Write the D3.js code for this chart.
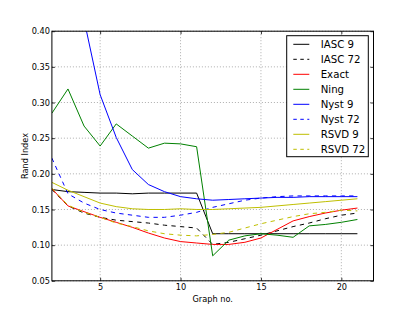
<!DOCTYPE html>
<html><head><meta charset="utf-8">
<script src="https://cdn.jsdelivr.net/npm/d3@7"></script>
<style>body{margin:0;background:#fff}svg{display:block}text{font-family:"DejaVu Sans",sans-serif}</style>
</head><body><svg id="c" width="415" height="312"></svg>
<script>
const graphs = [2,3,4,5,6,7,8,9,10,11,12,13,14,15,16,17,18,19,20,21];
const iasc9  = [0.178,0.175,0.174,0.173,0.173,0.172,0.173,0.173,0.173,0.173,0.116,0.116,0.116,0.116,0.116,0.116,0.116,0.116,0.116,0.116];
const iasc72 = [0.178,0.155,0.145,0.139,0.135,0.133,0.131,0.128,0.126,0.124,0.101,0.104,0.109,0.114,0.120,0.126,0.131,0.137,0.142,0.145];
const exact  = [0.179,0.155,0.147,0.139,0.132,0.125,0.117,0.110,0.105,0.103,0.101,0.101,0.104,0.110,0.122,0.134,0.140,0.145,0.149,0.152];
const ning   = [0.285,0.319,0.267,0.239,0.270,0.253,0.236,0.243,0.242,0.238,0.085,0.107,0.113,0.116,0.114,0.111,0.127,0.129,0.132,0.136];
const nyst9  = [0.600,0.500,0.416,0.311,0.251,0.206,0.185,0.175,0.168,0.165,0.163,0.164,0.165,0.166,0.167,0.167,0.168,0.168,0.168,0.168];
const nyst72 = [0.222,0.172,0.159,0.150,0.145,0.142,0.139,0.139,0.142,0.146,0.153,0.158,0.163,0.166,0.168,0.169,0.169,0.169,0.169,0.169];
const rsvd9  = [0.188,0.177,0.168,0.159,0.154,0.151,0.150,0.150,0.151,0.150,0.150,0.151,0.152,0.153,0.155,0.157,0.159,0.161,0.163,0.165];
const rsvd72 = [0.180,0.156,0.146,0.139,0.131,0.126,0.120,0.116,0.114,0.113,0.115,0.118,0.124,0.130,0.135,0.140,0.144,0.146,0.149,0.148];
const xTicks = [5,10,15,20];
const yTicks = [0.05,0.10,0.15,0.20,0.25,0.30,0.35,0.40];

const series = [
  {name:"IASC 9", values:iasc9, color:"#000000", dash:null},
  {name:"IASC 72", values:iasc72, color:"#000000", dash:"4.3,4.3"},
  {name:"Exact", values:exact, color:"#ff0000", dash:null},
  {name:"Ning", values:ning, color:"#008000", dash:null},
  {name:"Nyst 9", values:nyst9, color:"#0000ff", dash:null},
  {name:"Nyst 72", values:nyst72, color:"#0000ff", dash:"4.3,4.3"},
  {name:"RSVD 9", values:rsvd9, color:"#bfbf00", dash:null},
  {name:"RSVD 72", values:rsvd72, color:"#bfbf00", dash:"4.3,4.3"}
];

const L=51.9, R=373.5, T=31.2, B=280.8;
const svg = d3.select("#c");
const x = d3.scaleLinear().domain([2,22]).range([L,R]);
const y = d3.scaleLinear().domain([0.05,0.40]).range([B,T]);

svg.append("defs").append("clipPath").attr("id","clip")
  .append("rect").attr("x",L).attr("y",T).attr("width",R-L).attr("height",B-T);

// grid
const grid = svg.append("g").attr("stroke","#999").attr("stroke-width",0.8).attr("stroke-dasharray","1,2");
xTicks.forEach(t=>grid.append("line").attr("x1",x(t)).attr("x2",x(t)).attr("y1",T).attr("y2",B));
yTicks.forEach(t=>grid.append("line").attr("x1",L).attr("x2",R).attr("y1",y(t)).attr("y2",y(t)));

// lines
const line = d3.line().x((d,i)=>x(graphs[i])).y(d=>y(d));
const lg = svg.append("g").attr("clip-path","url(#clip)");
series.forEach(s=>{
  lg.append("path").attr("d",line(s.values)).attr("fill","none")
    .attr("stroke",s.color).attr("stroke-width",1)
    .attr("stroke-dasharray",s.dash);
});

// axes (ticks inward, on all sides)
const fs = 8.2;
const ax = svg.append("g").attr("transform",`translate(0,${B})`)
  .call(d3.axisBottom(x).tickValues(xTicks).tickSizeInner(-3).tickSizeOuter(0).tickPadding(3).tickFormat(d3.format("d")));
const axT = svg.append("g").attr("transform",`translate(0,${T})`)
  .call(d3.axisTop(x).tickValues(xTicks).tickSizeInner(-3).tickSizeOuter(0).tickFormat(""));
const ay = svg.append("g").attr("transform",`translate(${L},0)`)
  .call(d3.axisLeft(y).tickValues(yTicks).tickSizeInner(-3).tickSizeOuter(0).tickPadding(2).tickFormat(d3.format(".2f")));
const ayR = svg.append("g").attr("transform",`translate(${R},0)`)
  .call(d3.axisRight(y).tickValues(yTicks).tickSizeInner(-3).tickSizeOuter(0).tickFormat(""));
[ax,axT,ay,ayR].forEach(g=>{
  g.select(".domain").remove();
  g.selectAll(".tick line").attr("stroke","#000").attr("stroke-width",0.8);
  g.selectAll("text").attr("font-size",fs).attr("fill","#000").attr("font-family","DejaVu Sans");
});
svg.append("rect").attr("x",L).attr("y",T).attr("width",R-L).attr("height",B-T)
  .attr("fill","none").attr("stroke","#000").attr("stroke-width",1);

svg.append("text").attr("x",(L+R)/2).attr("y",302).attr("text-anchor","middle")
  .attr("font-size",fs).text("Graph no.");
svg.append("text").attr("transform",`translate(27.5,${(T+B)/2}) rotate(-90)`).attr("text-anchor","middle")
  .attr("font-size",fs).text("Rand Index");

// legend
const lgd = svg.append("g");
lgd.append("rect").attr("x",286.7).attr("y",35.7).attr("width",81.6).attr("height",121)
  .attr("fill","#fff").attr("stroke","#000").attr("stroke-width",1);
series.forEach((s,i)=>{
  const yy = 44.3 + i*15;
  lgd.append("line").attr("x1",293.3).attr("x2",309.3).attr("y1",yy).attr("y2",yy)
    .attr("stroke",s.color).attr("stroke-width",1).attr("stroke-dasharray",s.dash?"3.5,3.5":null);
  lgd.append("text").attr("x",320.7).attr("y",yy).attr("dy","0.36em")
    .attr("font-size",10.2).text(s.name);
});
</script></body></html>
